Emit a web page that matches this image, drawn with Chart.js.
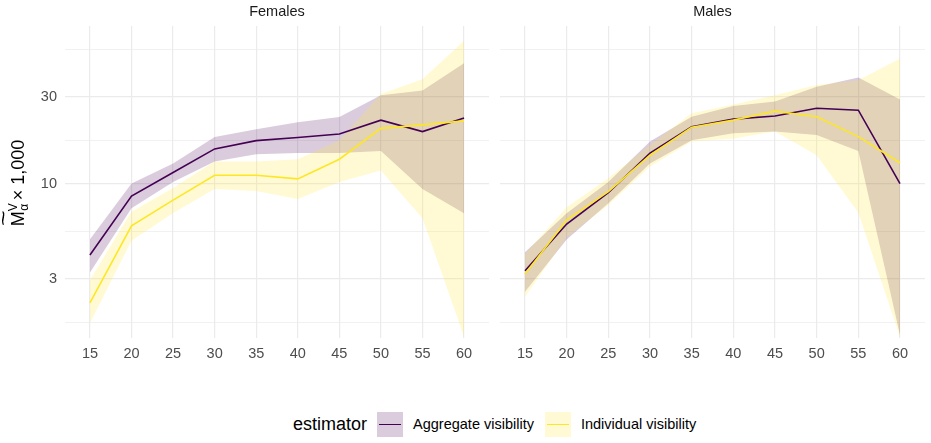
<!DOCTYPE html>
<html>
<head>
<meta charset="utf-8">
<script src="https://cdn.jsdelivr.net/npm/chart.js@4.4.1/dist/chart.umd.min.js"></script>
<style>
  body { margin: 0; background: #fff; width: 931px; height: 443px; position: relative; overflow: hidden;
         font-family: "Liberation Sans", Arial, sans-serif; }
  canvas { position: absolute; top: 0; }
  #c1 { left: 0; }
  #c2 { left: 435px; }
  #ytitle { position: absolute; left: -52px; top: 171px; width: 140px; height: 24px; line-height: 24px;
            text-align: center; transform: rotate(-90deg); font-size: 18px; color: #000; white-space: nowrap; }
  #ytitle .m { position: relative; display: inline-block; }
  #ytitle .m .tl { position: absolute; left: 0px; top: -15px; font-size: 20px; transform: scaleX(1.35); transform-origin: left; }
  #ytitle .ss { display: inline-flex; flex-direction: column; vertical-align: middle; font-size: 12px; line-height: 11px; margin-right: 3px; }
  #legend { position: absolute; left: 293px; top: 411px; height: 26px; display: flex; align-items: center;
            font-size: 14.5px; color: #000; }
  #legend .ttl { font-size: 18px; margin-right: 10px; }
  #legend .key { width: 26px; height: 25px; position: relative; margin-right: 10px; }
  #legend .key span { position: absolute; left: 2px; right: 2px; top: 12px; height: 1.6px; }
  #legend .lab { margin-right: 11px; }
</style>
</head>
<body>
<canvas id="c1" width="495" height="368"></canvas>
<canvas id="c2" width="496" height="368"></canvas>
<div id="ytitle"><span class="m">M<span class="tl">~</span></span><span class="ss"><span>V</span><span>α</span></span>× 1,000</div>
<div id="legend">
  <span class="ttl">estimator</span>
  <span class="key" style="background:rgba(68,1,84,0.2)"><span style="background:#440154"></span></span>
  <span class="lab">Aggregate visibility</span>
  <span class="key" style="background:rgba(253,231,37,0.2)"><span style="background:#FDE725"></span></span>
  <span class="lab">Individual visibility</span>
</div>
<script>
// age groups
const ages = [15, 20, 25, 30, 35, 40, 45, 50, 55, 60];
const yTicks = [3, 10, 30];

// Females
const femAggEst  = [4.05, 8.54, 11.5, 15.5, 17.2, 17.9, 18.7, 22.3, 19.3, 22.9];
const femAggLow  = [3.24, 7.31, 10.2, 13.2, 14.5, 14.7, 14.7, 15.1, 9.33, 6.86];
const femAggHigh = [4.93, 10.0, 12.9, 18.0, 19.9, 21.7, 23.2, 30.6, 32.4, 45.8];
const femIndEst  = [2.21, 5.86, 8.11, 11.1, 11.1, 10.6, 13.6, 20.1, 21.0, 22.1];
const femIndLow  = [1.71, 4.85, 6.89, 9.33, 9.09, 8.22, 10.2, 11.8, 6.44, 1.44];
const femIndHigh = [2.95, 7.0, 9.45, 13.2, 13.2, 13.6, 17.3, 31.0, 37.4, 60.9];

// Males
const maleAggEst  = [3.32, 5.99, 8.9, 14.7, 20.5, 22.6, 23.5, 25.9, 25.3, 10.0];
const maleAggLow  = [2.54, 4.93, 7.78, 12.9, 17.3, 18.9, 19.3, 18.5, 15.1, 1.47];
const maleAggHigh = [4.19, 6.86, 10.2, 17.0, 23.3, 26.7, 28.2, 34.0, 38.3, 29.0];
const maleIndEst  = [3.18, 6.3, 9.02, 14.3, 20.4, 22.3, 25.0, 23.3, 18.1, 13.0];
const maleIndLow  = [2.39, 5.06, 7.62, 12.4, 17.0, 17.7, 19.3, 14.3, 6.91, 1.44];
const maleIndHigh = [4.1, 7.4, 10.7, 16.3, 24.3, 27.2, 30.6, 34.8, 37.0, 48.7];

const purple = '#440154', yellow = '#FDE725';
const purpleFill = 'rgba(68,1,84,0.2)', yellowFill = 'rgba(253,231,37,0.2)';

// major ticks plus log-midpoint minor grid lines (like ggplot)
const yGrid = [Math.sqrt(3), 3, Math.sqrt(30), 10, Math.sqrt(300), 30, Math.sqrt(3000)];

function pts(vals) { return vals.map((v, i) => ({ x: ages[i], y: v })); }

function band(vals, fillTo, color) {
  return { data: pts(vals), borderWidth: 0, pointRadius: 0, fill: fillTo, backgroundColor: color, borderColor: 'transparent' };
}

function makePanel(id, title, s, showY) {
  const datasets = [
    Object.assign(band(s.aggLow, false, purpleFill), { order: 5 }),
    Object.assign(band(s.aggHigh, 0, purpleFill), { order: 4 }),
    Object.assign(band(s.indLow, false, yellowFill), { order: 3 }),
    Object.assign(band(s.indHigh, 2, yellowFill), { order: 2 }),
    { data: pts(s.aggEst), borderColor: purple, borderWidth: 1.6, pointRadius: 0, fill: false, order: 1 },
    { data: pts(s.indEst), borderColor: yellow, borderWidth: 1.6, pointRadius: 0, fill: false, order: 0 }
  ];
  return new Chart(document.getElementById(id), {
    type: 'line',
    data: { datasets: datasets },
    options: {
      responsive: false,
      animation: false,
      devicePixelRatio: 1,
      layout: { padding: { top: 0, right: 6, bottom: 0, left: 0 } },
      plugins: {
        legend: { display: false },
        tooltip: { enabled: false },
        filler: { drawTime: 'beforeDatasetsDraw' },
        title: {
          display: true, text: title, fullSize: false, color: '#1A1A1A',
          font: { family: 'Liberation Sans, Arial', size: 14.5, weight: 'normal', lineHeight: 1.2 },
          padding: { top: 3, bottom: 5.6 }
        }
      },
      scales: {
        x: {
          type: 'linear', min: 12, max: 63,
          afterBuildTicks: sc => { sc.ticks = ages.map(v => ({ value: v })); },
          afterFit: sc => { sc.height = 30; },
          border: { display: false },
          grid: { color: '#EBEBEB', lineWidth: 1.2, drawTicks: false, tickLength: 0 },
          ticks: { color: '#4D4D4D', padding: 7, maxRotation: 0,
                   font: { family: 'Liberation Sans, Arial', size: 14.5 } }
        },
        y: {
          type: 'logarithmic', min: 1.416, max: 73.4,
          afterBuildTicks: sc => { sc.ticks = yGrid.map(v => ({ value: v })); },
          afterFit: sc => { sc.width = 65; },
          border: { display: false },
          grid: {
            color: '#EBEBEB', drawTicks: false, tickLength: 0,
            lineWidth: c => (c.tick && yTicks.includes(c.tick.value)) ? 1.2 : 0.7
          },
          ticks: {
            display: showY, color: '#4D4D4D', padding: 8,
            font: { family: 'Liberation Sans, Arial', size: 14.5 },
            callback: v => yTicks.includes(v) ? String(v) : ''
          }
        }
      }
    }
  });
}

makePanel('c1', 'Females', {
  aggEst: femAggEst, aggLow: femAggLow, aggHigh: femAggHigh,
  indEst: femIndEst, indLow: femIndLow, indHigh: femIndHigh
}, true);
makePanel('c2', 'Males', {
  aggEst: maleAggEst, aggLow: maleAggLow, aggHigh: maleAggHigh,
  indEst: maleIndEst, indLow: maleIndLow, indHigh: maleIndHigh
}, false);
</script>
</body>
</html>
